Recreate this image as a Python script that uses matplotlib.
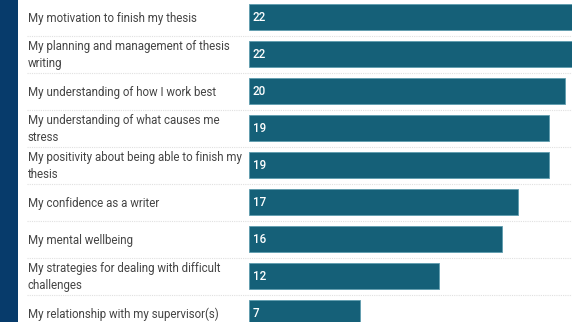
import matplotlib.pyplot as plt
import matplotlib.transforms as mtransforms
from matplotlib.patches import Rectangle
from matplotlib.lines import Line2D

etiquetas = [
    "My motivation to finish my thesis",
    "My planning and management of thesis\nwriting",
    "My understanding of how I work best",
    "My understanding of what causes me\nstress",
    "My positivity about being able to finish my\nthesis",
    "My confidence as a writer",
    "My mental wellbeing",
    "My strategies for dealing with difficult\nchallenges",
    "My relationship with my supervisor(s)",
]
valores = [22, 22, 20, 19, 19, 17, 16, 12, 7]

W, H = 572, 322
fig = plt.figure(figsize=(W / 100, H / 100), dpi=100)
fig.patch.set_facecolor("white")

# faixa azul escura na esquerda
fig.patches.append(Rectangle((0, 0), 17.5 / W, 1, transform=fig.transFigure,
                             facecolor="#073b6b", edgecolor="none", zorder=0))

x0 = 249 / W
ax = fig.add_axes([x0, 0, 1 - x0, 1])
ax.set_axis_off()

pos = list(range(len(valores)))
ax.barh(pos, valores, height=0.70, color="#156078", edgecolor="#5f9cae", linewidth=0.6)

# escala: 15.8 px por unidade
ax.set_xlim(0, (W - 249) / 15.8)
topo = -17 / 37
base = (H - 17) / 37
ax.set_ylim(base, topo)

for i, v in zip(pos, valores):
    ax.text(0.25, i + 0.02, str(v), color="white", fontsize=8.4, fontweight="medium",
            family="Roboto", va="center", ha="left")

trans = mtransforms.blended_transform_factory(fig.transFigure, ax.transData)
for i, lab in zip(pos, etiquetas):
    fig.text(27.5 / W, i + 0.03, lab, transform=trans, fontsize=8.3, family="Roboto",
             color="#444444", va="center", ha="left", linespacing=1.35)

# linhas pontilhadas entre as linhas
for i in pos[:-1]:
    fig.lines.append(Line2D([27 / W, 1], [i + 0.5, i + 0.5], transform=trans,
                            color="#e0e0e0", linewidth=0.8, linestyle=(0, (1, 1))))

fig.savefig("out.png", dpi=100)
